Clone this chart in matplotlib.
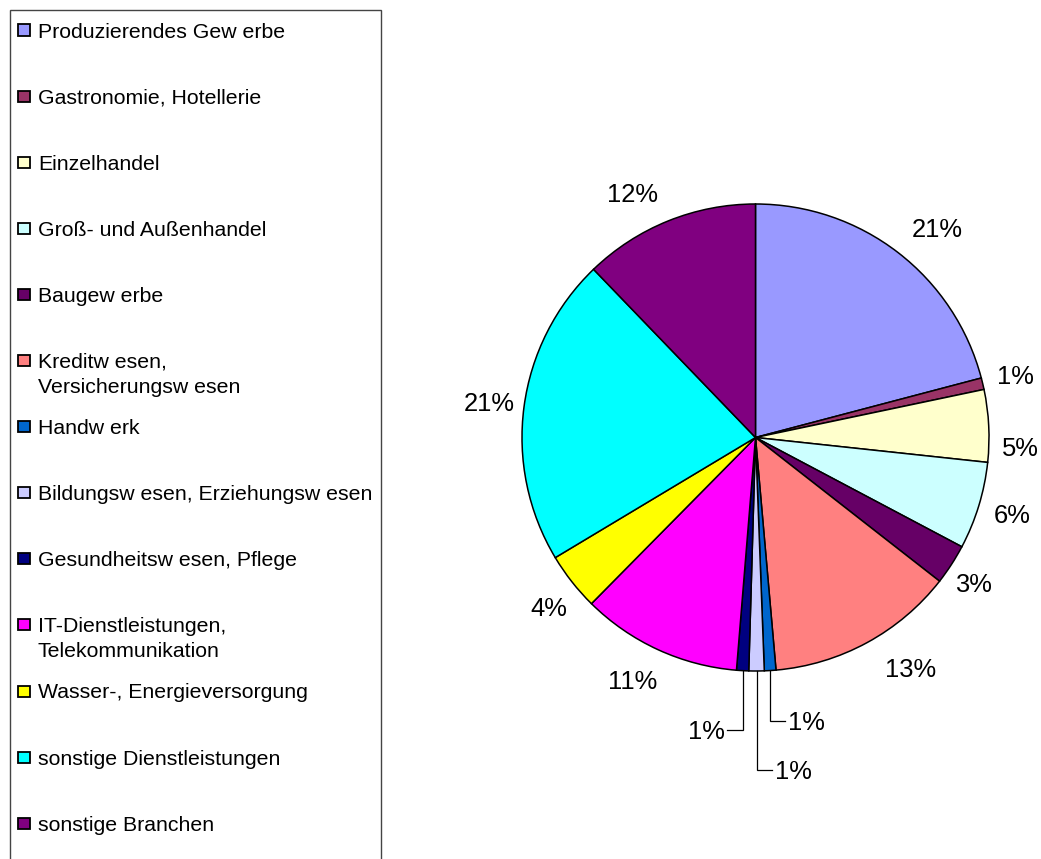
import matplotlib
matplotlib.use('Agg')
import matplotlib.pyplot as plt
import numpy as np
from matplotlib.patches import Rectangle

plt.rcParams['font.family'] = ['Liberation Sans', 'DejaVu Sans']

# ---------------- data ----------------
legend_labels = [
    "Produzierendes Gew erbe",
    "Gastronomie, Hotellerie",
    "Einzelhandel",
    "Groß- und Außenhandel",
    "Baugew erbe",
    "Kreditw esen,\nVersicherungsw esen",
    "Handw erk",
    "Bildungsw esen, Erziehungsw esen",
    "Gesundheitsw esen, Pflege",
    "IT-Dienstleistungen,\nTelekommunikation",
    "Wasser-, Energieversorgung",
    "sonstige Dienstleistungen",
    "sonstige Branchen",
]
values = [20.9, 0.8, 5.0, 6.05, 2.8, 13.05, 0.8, 1.06, 0.84, 11.1, 4.0, 21.4, 12.2]
colors = ["#9999FF", "#993366", "#FFFFCC", "#CCFFFF", "#660066", "#FF8080",
          "#0066CC", "#CCCCFF", "#000080", "#FF00FF", "#FFFF00", "#00FFFF", "#800080"]

# ---------------- layout ----------------
W, H = 1041, 859
fig = plt.figure(figsize=(W / 100, H / 100), dpi=100)

cx, cy, R = 755.5, 437.5, 233.5           # pie centre / radius in pixels
axl, axr, axt, axb = 430, 1041, 150, 830
ax = fig.add_axes([axl / W, 1 - axb / H, (axr - axl) / W, (axb - axt) / H])
wedges, _ = ax.pie(values, colors=colors, startangle=90, counterclock=False,
                   wedgeprops=dict(edgecolor='black', linewidth=1.1))
ax.set_aspect('auto')
ax.set_xlim((axl - cx) / R, (axr - cx) / R)
ax.set_ylim((cy - axb) / R, (cy - axt) / R)
ax.axis('off')

# label placement: (distance factor, clockwise angle nudge deg)
label_place = {0: (1.186, 3.3), 1: (1.143, -0.2), 2: (1.134, 5.0), 3: (1.146, -0.4),
               4: (1.121, 0.8), 5: (1.188, -5.4), 9: (1.165, 2.3), 10: (1.143, -1.2),
               11: (1.152, 0.0), 12: (1.173, -4.8)}
# leader lines: (drop px, run px)
leader = {6: (50, 15), 7: (99, 15), 8: (59, -16)}

total = sum(values)
pct_fs = 18.4
cap_half = 9.0 / R
for i, w in enumerate(wedges):
    txt = f"{values[i] / total * 100:.0f}%"
    mid = np.deg2rad((w.theta1 + w.theta2) / 2)
    if i in label_place:
        d, nudge = label_place[i]
        a = mid - np.deg2rad(nudge)
        x, y = d * np.cos(a), d * np.sin(a)
        ax.text(x, y - cap_half, txt, ha='center', va='baseline', fontsize=pct_fs)
    else:
        drop, run = leader[i]
        x0, y0 = np.cos(mid), np.sin(mid)
        y1 = y0 - drop / R
        x1 = x0 + run / R
        ax.plot([x0, x0, x1], [y0, y1, y1], color='black', lw=0.9, solid_joinstyle='miter')
        if run > 0:
            ax.text(x1 + 3 / R, y1 - cap_half, txt, ha='left', va='baseline', fontsize=pct_fs)
        else:
            ax.text(x1 - 2 / R, y1 - cap_half, txt, ha='right', va='baseline', fontsize=pct_fs)

# ---------------- legend ----------------
lx0, lx1, ly0 = 10, 381, 10
fig.patches.append(Rectangle((lx0 / W, -0.05), (lx1 - lx0) / W, 1 - ly0 / H + 0.05,
                             transform=fig.transFigure, facecolor='white',
                             edgecolor='#444444', linewidth=1.0, zorder=0))
first_y, step, line_gap = 30, 66.1, 25
leg_fs = 15.3
for i, lab in enumerate(legend_labels):
    yc = first_y + i * step
    fig.patches.append(Rectangle((18 / W, 1 - (yc + 5.5) / H), 12 / W, 11 / H,
                                 transform=fig.transFigure, facecolor=colors[i],
                                 edgecolor='black', linewidth=1.3, zorder=2))
    for j, line in enumerate(lab.split("\n")):
        fig.text(38 / W, 1 - (yc + j * line_gap + 7.5) / H, line, ha='left', va='baseline',
                 fontsize=leg_fs)

fig.savefig("out.png", dpi=100)
